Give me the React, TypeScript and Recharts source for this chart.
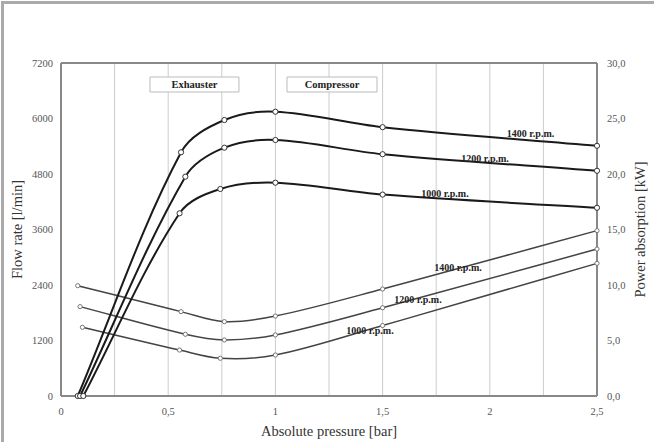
import React from 'react';
import {
  LineChart, Line, XAxis, YAxis, CartesianGrid, ReferenceArea, ReferenceDot, ReferenceLine,
} from 'recharts';

// Flow rate [l/min] vs absolute pressure [bar]
const flow1400 = [
  { p: 0.078, q: 0 }, { p: 0.56, q: 5270 }, { p: 0.762, q: 5967 },
  { p: 1.0, q: 6147 }, { p: 1.5, q: 5812 }, { p: 2.5, q: 5410 },
];
const flow1200 = [
  { p: 0.089, q: 0 }, { p: 0.58, q: 4742 }, { p: 0.762, q: 5369 },
  { p: 1.0, q: 5535 }, { p: 1.5, q: 5228 }, { p: 2.5, q: 4870 },
];
const flow1000 = [
  { p: 0.104, q: 0 }, { p: 0.553, q: 3950 }, { p: 0.743, q: 4476 },
  { p: 1.0, q: 4612 }, { p: 1.5, q: 4355 }, { p: 2.5, q: 4070 },
];

// Power absorption [kW] vs absolute pressure [bar]
const power1400 = [
  { p: 0.078, w: 9.94 }, { p: 0.56, w: 7.6 }, { p: 0.762, w: 6.7 },
  { p: 1.0, w: 7.2 }, { p: 1.5, w: 9.64 }, { p: 2.5, w: 14.9 },
];
const power1200 = [
  { p: 0.089, w: 8.05 }, { p: 0.58, w: 5.56 }, { p: 0.762, w: 5.05 },
  { p: 1.0, w: 5.5 }, { p: 1.5, w: 7.95 }, { p: 2.5, w: 13.24 },
];
const power1000 = [
  { p: 0.1, w: 6.19 }, { p: 0.553, w: 4.14 }, { p: 0.743, w: 3.4 },
  { p: 1.0, w: 3.69 }, { p: 1.5, w: 6.35 }, { p: 2.5, w: 11.95 },
];

const xTicks = [0, 0.25, 0.5, 0.75, 1, 1.25, 1.5, 1.75, 2, 2.25, 2.5];
const flowTicks = [0, 1200, 2400, 3600, 4800, 6000, 7200];
const powerTicks = [0, 5, 10, 15, 20, 25, 30];

const flowLabels = [
  { text: '1400 r.p.m.', p: 2.19, q: 5686 },
  { text: '1200 r.p.m.', p: 1.978, q: 5146 },
  { text: '1000 r.p.m.', p: 1.791, q: 4389 },
];
const powerLabels = [
  { text: '1400 r.p.m.', p: 1.852, w: 11.62 },
  { text: '1200 r.p.m.', p: 1.665, w: 8.74 },
  { text: '1000 r.p.m.', p: 1.441, w: 5.95 },
];
const modeBoxes = [
  { text: 'Exhauster', p1: 0.415, p2: 0.83, q1: 6573, q2: 6897 },
  { text: 'Compressor', p1: 1.054, p2: 1.474, q1: 6573, q2: 6897 },
];

const FONT = '"Liberation Serif", "Times New Roman", serif';
const tickStyle = { fontSize: 10.5, fill: '#555', fontFamily: FONT };

const fmtX = (v: number) => (Math.abs(v * 2 - Math.round(v * 2)) < 1e-6 ? String(v).replace('.', ',') : '');
const fmtPow = (v: number) => v.toFixed(1).replace('.', ',');

const flowDot = { r: 2.6, fill: '#fff', stroke: '#333', strokeWidth: 1 };
const powerDot = { r: 2.1, fill: '#fff', stroke: '#777', strokeWidth: 1 };

// Smoothed line: Bezier with tangent direction from neighbours, length scaled by segment length
const smoothCurve: any = (context: any) => {
  let pts: number[][] = [];
  const unit = (dx: number, dy: number) => {
    const l = Math.hypot(dx, dy) || 1;
    return [dx / l, dy / l];
  };
  return {
    areaStart() {},
    areaEnd() {},
    lineStart() { pts = []; },
    point(x: number, y: number) { pts.push([+x, +y]); },
    lineEnd() {
      const n = pts.length;
      if (!n) return;
      const tans = pts.map((p, i) => {
        const a = pts[Math.max(0, i - 1)];
        const b = pts[Math.min(n - 1, i + 1)];
        return unit(b[0] - a[0], b[1] - a[1]);
      });
      context.moveTo(pts[0][0], pts[0][1]);
      for (let i = 0; i < n - 1; i++) {
        const p1 = pts[i];
        const p2 = pts[i + 1];
        const d = Math.hypot(p2[0] - p1[0], p2[1] - p1[1]) / 3;
        const c1x = p1[0] + tans[i][0] * d;
        const c1y = p1[1] + tans[i][1] * d;
        const c2x = p2[0] - tans[i + 1][0] * d;
        const c2y = p2[1] - tans[i + 1][1] * d;
        context.bezierCurveTo(c1x, c1y, c2x, c2y, p2[0], p2[1]);
      }
    },
  };
};

const labelStyle = (size: number) => ({ fontSize: size, fontWeight: 'bold', fill: '#222', fontFamily: FONT });

export default function App() {
  return (
    <div style={{ position: 'fixed', top: 0, left: 0, width: 654, height: 442, background: '#fff', fontFamily: FONT }}>
      <div style={{ position: 'absolute', top: 1, left: 1, width: 653, height: 441, borderTop: '3px solid #aaa', borderLeft: '3px solid #aaa', boxSizing: 'border-box' }} />
      <LineChart width={654} height={442} margin={{ top: 63, right: 0, bottom: 0, left: 0 }} style={{ fontFamily: FONT }}>
        <CartesianGrid stroke="#cccccc" strokeWidth={1} />
        <XAxis
          dataKey="p" type="number" domain={[0, 2.5]} ticks={xTicks} interval={0}
          tickFormatter={fmtX} tickLine={false} height={46}
          axisLine={{ stroke: '#888', strokeWidth: 2 }} tick={tickStyle} tickMargin={6}
          allowDuplicatedCategory={false}
          label={{ value: 'Absolute pressure [bar]', position: 'insideBottom', offset: 6, fontFamily: FONT, style: { fontSize: 14.5, fill: '#333', fontFamily: FONT } }}
        />
        <YAxis
          yAxisId="left" domain={[0, 7200]} ticks={flowTicks} width={61} tickLine={false}
          axisLine={{ stroke: '#888', strokeWidth: 2 }} tick={tickStyle} tickMargin={2}
          label={{ value: 'Flow rate [l/min]', angle: -90, position: 'insideLeft', offset: 17, fontFamily: FONT, style: { textAnchor: 'middle', fontSize: 14.5, fill: '#333', fontFamily: FONT } }}
        />
        <YAxis
          yAxisId="right" orientation="right" domain={[0, 30]} ticks={powerTicks} width={57} tickLine={false}
          tickFormatter={fmtPow}
          axisLine={{ stroke: '#888', strokeWidth: 2 }} tick={tickStyle} tickMargin={4}
          label={{ value: 'Power absorption [kW]', angle: -90, position: 'insideRight', offset: 14, fontFamily: FONT, style: { textAnchor: 'middle', fontSize: 14.5, fill: '#333', fontFamily: FONT } }}
        />
        <ReferenceLine yAxisId="left" y={7200} stroke="#888" strokeWidth={2} />
        {modeBoxes.map((b) => (
          <ReferenceArea
            key={b.text} yAxisId="left" x1={b.p1} x2={b.p2} y1={b.q1} y2={b.q2}
            fill="#fff" fillOpacity={1} stroke="#bbb" strokeWidth={1}
            label={{ value: b.text, position: 'center', fontFamily: FONT, fontWeight: 'bold', fontSize: 10.5, style: labelStyle(10.5) }}
          />
        ))}
        <Line yAxisId="right" data={power1400} dataKey="w" type={smoothCurve} stroke="#444" strokeWidth={1.5} dot={powerDot} isAnimationActive={false} />
        <Line yAxisId="right" data={power1200} dataKey="w" type={smoothCurve} stroke="#444" strokeWidth={1.5} dot={powerDot} isAnimationActive={false} />
        <Line yAxisId="right" data={power1000} dataKey="w" type={smoothCurve} stroke="#444" strokeWidth={1.5} dot={powerDot} isAnimationActive={false} />
        <Line yAxisId="left" data={flow1400} dataKey="q" type={smoothCurve} stroke="#1a1a1a" strokeWidth={2} dot={flowDot} isAnimationActive={false} />
        <Line yAxisId="left" data={flow1200} dataKey="q" type={smoothCurve} stroke="#1a1a1a" strokeWidth={2} dot={flowDot} isAnimationActive={false} />
        <Line yAxisId="left" data={flow1000} dataKey="q" type={smoothCurve} stroke="#1a1a1a" strokeWidth={2} dot={flowDot} isAnimationActive={false} />
        {flowLabels.map((l) => (
          <ReferenceDot
            key={'f' + l.text} yAxisId="left" x={l.p} y={l.q} r={0} fill="none" stroke="none"
            label={{ value: l.text, position: 'center', fontFamily: FONT, fontWeight: 'bold', fontSize: 10, style: labelStyle(10) }}
          />
        ))}
        {powerLabels.map((l) => (
          <ReferenceDot
            key={'w' + l.text} yAxisId="right" x={l.p} y={l.w} r={0} fill="none" stroke="none"
            label={{ value: l.text, position: 'center', fontFamily: FONT, fontWeight: 'bold', fontSize: 10, style: labelStyle(10) }}
          />
        ))}
      </LineChart>
    </div>
  );
}
